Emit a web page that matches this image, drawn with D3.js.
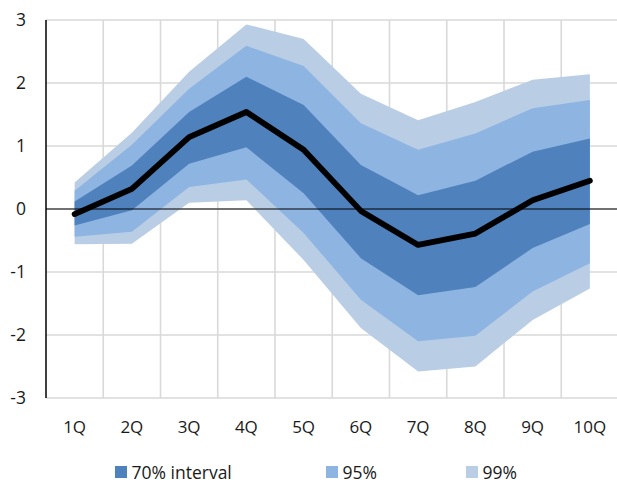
<!DOCTYPE html>
<html>
<head>
<meta charset="utf-8">
<script src="https://cdn.jsdelivr.net/npm/d3@7"></script>
<style>
  body { margin: 0; background: #fff; }
  text { font-family: "Open Sans", Lato, sans-serif; fill: #1a1a1a; }
</style>
</head>
<body>
<script>
var quarters = ["1Q", "2Q", "3Q", "4Q", "5Q", "6Q", "7Q", "8Q", "9Q", "10Q"];
var center = [-0.08, 0.32, 1.14, 1.54, 0.94, -0.03, -0.57, -0.39, 0.14, 0.45];
var lo70 = [-0.26, -0.02, 0.72, 0.98, 0.25, -0.78, -1.37, -1.24, -0.62, -0.24];
var hi70 = [0.12, 0.69, 1.54, 2.10, 1.65, 0.70, 0.22, 0.45, 0.91, 1.12];
var lo95 = [-0.44, -0.36, 0.35, 0.47, -0.38, -1.44, -2.10, -2.01, -1.31, -0.86];
var hi95 = [0.29, 1.02, 1.91, 2.59, 2.27, 1.36, 0.94, 1.20, 1.60, 1.73];
var lo99 = [-0.56, -0.55, 0.10, 0.14, -0.81, -1.89, -2.58, -2.50, -1.76, -1.26];
var hi99 = [0.42, 1.21, 2.18, 2.93, 2.70, 1.83, 1.41, 1.70, 2.05, 2.14];
var yTicks = [-3, -2, -1, 0, 1, 2, 3];
var legendLabels = ["70% interval", "95%", "99%"];

var width = 617, height = 484;
var svg = d3.select("body").append("svg")
    .attr("width", width)
    .attr("height", height);

var x = d3.scaleBand().domain(quarters).range([46, 618.5]);
var y = d3.scaleLinear().domain([-3, 3]).range([398, 20]);
function cx(i) { return x(quarters[i]) + x.bandwidth() / 2; }

// grid
var grid = svg.append("g");
grid.selectAll("line.h")
    .data(yTicks)
    .enter().append("line")
    .attr("x1", 46).attr("x2", 620)
    .attr("y1", function(d) { return y(d); })
    .attr("y2", function(d) { return y(d); })
    .attr("stroke", "#d9d9d9")
    .attr("stroke-width", 1.6);
grid.selectAll("line.v")
    .data(quarters.slice(1).concat(["end"]))
    .enter().append("line")
    .attr("x1", function(d, i) { return 46 + x.bandwidth() * (i + 1); })
    .attr("x2", function(d, i) { return 46 + x.bandwidth() * (i + 1); })
    .attr("y1", y(3)).attr("y2", y(-3))
    .attr("stroke", "#d9d9d9")
    .attr("stroke-width", 1.6);

// bands
var bands = [
    {lo: lo99, hi: hi99, color: "#b9cde5"},
    {lo: lo95, hi: hi95, color: "#8eb4e2"},
    {lo: lo70, hi: hi70, color: "#4f81bd"}
];
var area = d3.area()
    .x(function(d, i) { return cx(i); })
    .y0(function(d) { return y(d[0]); })
    .y1(function(d) { return y(d[1]); });
svg.append("g").selectAll("path")
    .data(bands)
    .enter().append("path")
    .attr("d", function(b) { return area(d3.zip(b.lo, b.hi)); })
    .attr("fill", function(b) { return b.color; });

// zero line and axis
svg.append("line")
    .attr("x1", 46).attr("x2", 620)
    .attr("y1", y(0)).attr("y2", y(0))
    .attr("stroke", "#000").attr("stroke-width", 1.2);
svg.append("line")
    .attr("x1", 46).attr("x2", 46)
    .attr("y1", y(3)).attr("y2", y(-3))
    .attr("stroke", "#000").attr("stroke-width", 1.5);

// central projection
var line = d3.line()
    .x(function(d, i) { return cx(i); })
    .y(function(d) { return y(d); });
svg.append("path")
    .attr("d", line(center))
    .attr("fill", "none")
    .attr("stroke", "#000")
    .attr("stroke-width", 5.8)
    .attr("stroke-linejoin", "round")
    .attr("stroke-linecap", "round");

// y labels
svg.append("g").selectAll("text")
    .data(yTicks)
    .enter().append("text")
    .attr("x", 26)
    .attr("y", function(d) { return y(d); })
    .attr("dy", "0.36em")
    .attr("text-anchor", "end")
    .attr("font-size", 17.5)
    .text(function(d) { return d; });

// x labels
svg.append("g").selectAll("text")
    .data(quarters)
    .enter().append("text")
    .attr("x", function(d, i) { return cx(i); })
    .attr("y", 433)
    .attr("text-anchor", "middle")
    .attr("font-size", 17)
    .text(function(d) { return d; });

// legend
var legX = [115, 326, 466];
var leg = svg.append("g").selectAll("g")
    .data(legendLabels)
    .enter().append("g")
    .attr("transform", function(d, i) { return "translate(" + legX[i] + ",466)"; });
leg.append("rect")
    .attr("width", 12).attr("height", 12)
    .attr("fill", function(d, i) { return bands[2 - i].color; });
leg.append("text")
    .attr("x", 16.5).attr("y", 13)
    .attr("font-size", 17.5)
    .text(function(d) { return d; });
</script>
</body>
</html>
